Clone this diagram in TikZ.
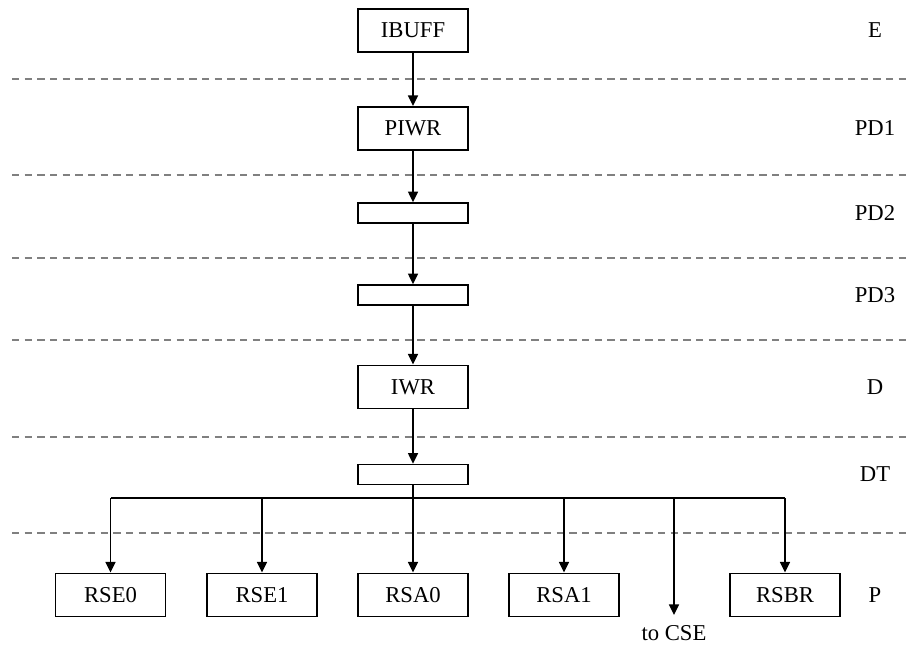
\documentclass[tikz,border=0pt]{standalone}
\usepackage{fontspec}
\setmainfont{Liberation Serif}
\usetikzlibrary{arrows.meta}

\begin{document}
\begin{tikzpicture}[
    x=0.75pt, y=-0.75pt,
    stage/.style={draw, line width=1.2pt, minimum width=82.5pt, minimum height=32.5pt,
                  inner sep=0pt, font=\fontsize{17}{20}\selectfont},
    slim/.style={stage, minimum height=15pt},
    tag/.style={font=\fontsize{17}{20}\selectfont},
    sep/.style={gray, line width=0.8pt, dash pattern=on 5.5pt off 4pt},
    flow/.style={line width=1.2pt, -{Triangle[length=8pt, width=7.5pt]}}]

\useasboundingbox (0,0) rectangle (912,646);

% pipeline stage boundaries and names
\foreach \y in {79,175,258,340,437,533}
    \draw[sep] (12,\y) -- (910,\y);
\foreach \name/\y in {E/30, PD1/128, PD2/213, PD3/295, D/387, DT/474, P/595}
    \node[tag] (lbl\name) at (875,\y) {\name};

% decode path
\node[stage] (ibuff) at (413,30.5) {IBUFF};
\node[stage] (piwr)  at (413,128.5) {PIWR};
\node[slim]  (pdtwo) at (413,213) {};
\node[slim]  (pdthree) at (413,295) {};
\node[stage] (iwr)   at (413,387) {IWR};
\node[slim]  (dt)    at (413,474.5) {};

% reservation stations
\node[stage] (rse0) at (110.5,595) {RSE0};
\node[stage] (rse1) at (262,595) {RSE1};
\node[stage] (rsa0) at (413,595) {RSA0};
\node[stage] (rsa1) at (564,595) {RSA1};
\node[stage] (rsbr) at (785,595) {RSBR};
\node[tag] (tocse) at (674,633) {to CSE};

\coordinate (bus) at (413,498);
\coordinate (cse) at (674,615);

\draw[flow] (ibuff) -- (piwr);
\draw[flow] (piwr) -- (pdtwo);
\draw[flow] (pdtwo) -- (pdthree);
\draw[flow] (pdthree) -- (iwr);
\draw[flow] (iwr) -- (dt);
\draw[flow] (dt) -- (rsa0);

\draw[line width=1.2pt] (rse0 |- bus) -- (rsbr |- bus);
\draw[flow] (rse0 |- bus) -- (rse0);
\draw[flow] (rse1 |- bus) -- (rse1);
\draw[flow] (rsa1 |- bus) -- (rsa1);
\draw[flow] (cse |- bus) -- (cse);
\draw[flow] (rsbr |- bus) -- (rsbr);

\end{tikzpicture}
\end{document}
